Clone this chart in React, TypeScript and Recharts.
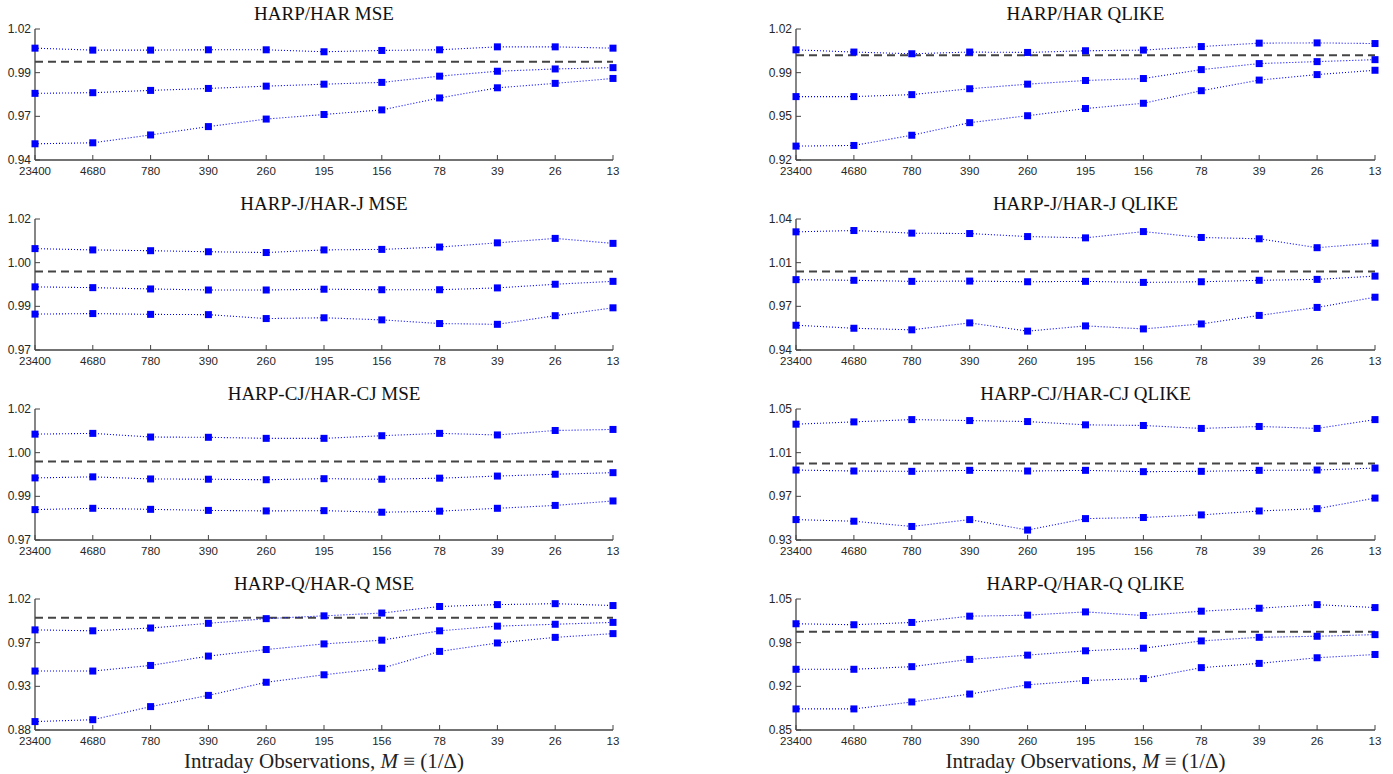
import { LineChart, Line, XAxis, YAxis, ReferenceLine } from "recharts";

const M_LABELS = ["23400", "4680", "780", "390", "260", "195", "156", "78", "39", "26", "13"];
const BENCHMARK = 1;

// HARP/HAR
const harMseTop = [1.0083, 1.0071, 1.0071, 1.0073, 1.0073, 1.0061, 1.0069, 1.0073, 1.0091, 1.0091, 1.0083];
const harMseMid = [0.9807, 0.9811, 0.9825, 0.9837, 0.9851, 0.9863, 0.9874, 0.9912, 0.9942, 0.9956, 0.9964];
const harMseBot = [0.9499, 0.9505, 0.9553, 0.9604, 0.965, 0.9678, 0.9706, 0.9779, 0.9841, 0.9868, 0.9898];
const harQlTop = [1.0041, 1.0024, 1.0011, 1.0024, 1.0021, 1.0034, 1.0039, 1.0066, 1.0092, 1.0094, 1.0089];
const harQlMid = [0.9684, 0.9684, 0.9699, 0.9744, 0.9779, 0.9807, 0.9822, 0.989, 0.9936, 0.9951, 0.9966];
const harQlBot = [0.9306, 0.9311, 0.9389, 0.9485, 0.9538, 0.9593, 0.9633, 0.9729, 0.981, 0.9852, 0.9885];

// HARP-J/HAR-J
const jMseTop = [1.0087, 1.0082, 1.0079, 1.0075, 1.0072, 1.0082, 1.0084, 1.0093, 1.0109, 1.0126, 1.0107];
const jMseMid = [0.9941, 0.9938, 0.9933, 0.9929, 0.9929, 0.9932, 0.993, 0.993, 0.9937, 0.9951, 0.9962];
const jMseBot = [0.9837, 0.9839, 0.9836, 0.9835, 0.982, 0.9823, 0.9815, 0.9801, 0.9798, 0.9831, 0.9861];
const jQlTop = [1.0302, 1.0312, 1.0292, 1.0289, 1.0266, 1.0256, 1.0304, 1.0259, 1.0249, 1.0181, 1.0216];
const jQlMid = [0.9937, 0.9932, 0.9924, 0.9926, 0.9921, 0.9924, 0.9916, 0.9921, 0.9932, 0.9939, 0.9964];
const jQlBot = [0.9589, 0.9566, 0.9554, 0.9607, 0.9544, 0.9584, 0.9561, 0.9599, 0.9664, 0.9725, 0.9803];

// HARP-CJ/HAR-CJ
const cjMseTop = [1.0104, 1.0107, 1.0093, 1.0092, 1.0088, 1.0088, 1.0098, 1.0107, 1.0101, 1.0118, 1.0122];
const cjMseMid = [0.9937, 0.9941, 0.9933, 0.9932, 0.993, 0.9934, 0.9932, 0.9936, 0.9944, 0.9951, 0.9957];
const cjMseBot = [0.9816, 0.9821, 0.9817, 0.9813, 0.9811, 0.9812, 0.9806, 0.981, 0.9821, 0.9832, 0.9849];
const cjQlTop = [1.0361, 1.0382, 1.0403, 1.0394, 1.0385, 1.0355, 1.0349, 1.0322, 1.034, 1.0322, 1.0403];
const cjQlMid = [0.9941, 0.9932, 0.9929, 0.9938, 0.9932, 0.9938, 0.9926, 0.9929, 0.9938, 0.9941, 0.9959];
const cjQlBot = [0.9487, 0.9472, 0.9424, 0.9487, 0.9391, 0.9496, 0.9506, 0.953, 0.9566, 0.9587, 0.9684];

// HARP-Q/HAR-Q
const qMseTop = [0.987, 0.986, 0.989, 0.994, 0.999, 1.002, 1.005, 1.012, 1.014, 1.015, 1.013];
const qMseMid = [0.943, 0.943, 0.949, 0.959, 0.966, 0.972, 0.976, 0.986, 0.991, 0.993, 0.995];
const qMseBot = [0.889, 0.891, 0.905, 0.917, 0.931, 0.939, 0.946, 0.964, 0.973, 0.979, 0.983];
const qQlTop = [1.0122, 1.0107, 1.0142, 1.0238, 1.0253, 1.0303, 1.0248, 1.0314, 1.0359, 1.0414, 1.0369];
const qQlMid = [0.9427, 0.9427, 0.9467, 0.9578, 0.9643, 0.9709, 0.9749, 0.986, 0.9915, 0.9931, 0.9956];
const qQlBot = [0.8822, 0.8822, 0.8928, 0.9049, 0.919, 0.9255, 0.9285, 0.9452, 0.9517, 0.9603, 0.9653];

const PANELS = [
  { title: "HARP/HAR MSE", col: 0, row: 0, y: [0.94, 1.02], s: [harMseTop, harMseMid, harMseBot] },
  { title: "HARP/HAR QLIKE", col: 1, row: 0, y: [0.92, 1.02], s: [harQlTop, harQlMid, harQlBot] },
  { title: "HARP-J/HAR-J MSE", col: 0, row: 1, y: [0.97, 1.02], s: [jMseTop, jMseMid, jMseBot] },
  { title: "HARP-J/HAR-J QLIKE", col: 1, row: 1, y: [0.94, 1.04], s: [jQlTop, jQlMid, jQlBot] },
  { title: "HARP-CJ/HAR-CJ MSE", col: 0, row: 2, y: [0.97, 1.02], s: [cjMseTop, cjMseMid, cjMseBot] },
  { title: "HARP-CJ/HAR-CJ QLIKE", col: 1, row: 2, y: [0.93, 1.05], s: [cjQlTop, cjQlMid, cjQlBot] },
  { title: "HARP-Q/HAR-Q MSE", col: 0, row: 3, y: [0.88, 1.02], s: [qMseTop, qMseMid, qMseBot] },
  { title: "HARP-Q/HAR-Q QLIKE", col: 1, row: 3, y: [0.85, 1.05], s: [qQlTop, qQlMid, qQlBot] },
];

const PLOT_LEFT = [35, 796];
const PLOT_RIGHT = [613, 1375];
const PLOT_TOP0 = 29;
const ROW_STEP = 190;
const PLOT_H = 131;
const Y_AXIS_W = 40;
const AXIS_COLOR = "#444";
const TICK_FONT = "'Liberation Sans', Arial, sans-serif";
const SERIF = "'Liberation Serif', 'Times New Roman', serif";

const SquareDot = (props: any) => {
  const { cx, cy } = props;
  if (cx == null || cy == null) return null;
  return <rect x={cx - 3.5} y={cy - 3.5} width={7} height={7} fill="#0000ff" />;
};

const YTick = (props: any) => {
  const { x, y, payload } = props;
  const ax = x + 4;
  return (
    <g>
      <line x1={ax} x2={ax + 5} y1={y} y2={y} stroke={AXIS_COLOR} strokeWidth={1} />
      <text x={x} y={y} textAnchor="end" dominantBaseline="central" fontSize={12} fontFamily={TICK_FONT} fill="#262626">
        {Number(payload.value).toFixed(2)}
      </text>
    </g>
  );
};

const XTick = (props: any) => {
  const { x, y, payload } = props;
  const ay = y - 7;
  return (
    <g>
      <line x1={x} x2={x} y1={ay} y2={ay - 5} stroke={AXIS_COLOR} strokeWidth={1} />
      <text x={x} y={y} textAnchor="middle" dominantBaseline="hanging" fontSize={11.5} fontFamily={TICK_FONT} fill="#262626">
        {payload.value}
      </text>
    </g>
  );
};

function Panel({ p }: { p: (typeof PANELS)[number] }) {
  const [lo, hi] = p.y;
  const ticks = [0, 1, 2, 3].map((k) => lo + ((hi - lo) * k) / 3);
  const data = M_LABELS.map((m, i) => ({ m, a: p.s[0][i], b: p.s[1][i], c: p.s[2][i] }));
  const plotLeft = PLOT_LEFT[p.col];
  const plotW = PLOT_RIGHT[p.col] - plotLeft;
  const plotTop = PLOT_TOP0 + p.row * ROW_STEP;
  const left = plotLeft - Y_AXIS_W;
  const top = plotTop - 10;
  const width = Y_AXIS_W + plotW + 12;
  const height = 10 + PLOT_H + 28;

  return (
    <>
      <div
        style={{
          position: "absolute",
          left: plotLeft,
          width: plotW,
          top: plotTop - 25,
          textAlign: "center",
          fontFamily: SERIF,
          fontSize: 19,
          lineHeight: "20px",
          color: "#111",
          whiteSpace: "nowrap",
        }}
      >
        {p.title}
      </div>
      <div style={{ position: "absolute", left, top }}>
        <LineChart width={width} height={height} data={data} margin={{ top: 10, right: 12, bottom: 0, left: 0 }}>
          <XAxis
            dataKey="m"
            interval={0}
            height={28}
            tickSize={0}
            tickMargin={7}
            tick={<XTick />}
            axisLine={{ stroke: AXIS_COLOR, strokeWidth: 1.3 }}
          />
          <YAxis
            type="number"
            domain={[lo, hi]}
            ticks={ticks}
            width={Y_AXIS_W}
            tickSize={0}
            tickMargin={4}
            tick={<YTick />}
            axisLine={{ stroke: AXIS_COLOR, strokeWidth: 1.3 }}
          />
          <ReferenceLine y={BENCHMARK} stroke="#444" strokeWidth={2} strokeDasharray="8 5" />
          {["a", "b", "c"].map((k) => (
            <Line
              key={k}
              dataKey={k}
              stroke="#0000ff"
              strokeWidth={1.1}
              strokeDasharray="1 2"
              dot={<SquareDot />}
              activeDot={false}
              isAnimationActive={false}
            />
          ))}
        </LineChart>
      </div>
    </>
  );
}

export default function App() {
  const xlabel = (
    <>
      Intraday Observations, <i>M</i> ≡ (1/Δ)
    </>
  );
  return (
    <div style={{ position: "absolute", left: 0, top: 0, width: 1393, height: 774, background: "#fff" }}>
      {PANELS.map((p) => (
        <Panel key={p.title} p={p} />
      ))}
      {[0, 1].map((c) => (
        <div
          key={c}
          style={{
            position: "absolute",
            left: PLOT_LEFT[c],
            width: PLOT_RIGHT[c] - PLOT_LEFT[c],
            top: 749,
            textAlign: "center",
            fontFamily: SERIF,
            fontSize: 21,
            lineHeight: "24px",
            color: "#222",
            whiteSpace: "nowrap",
          }}
        >
          {xlabel}
        </div>
      ))}
    </div>
  );
}
